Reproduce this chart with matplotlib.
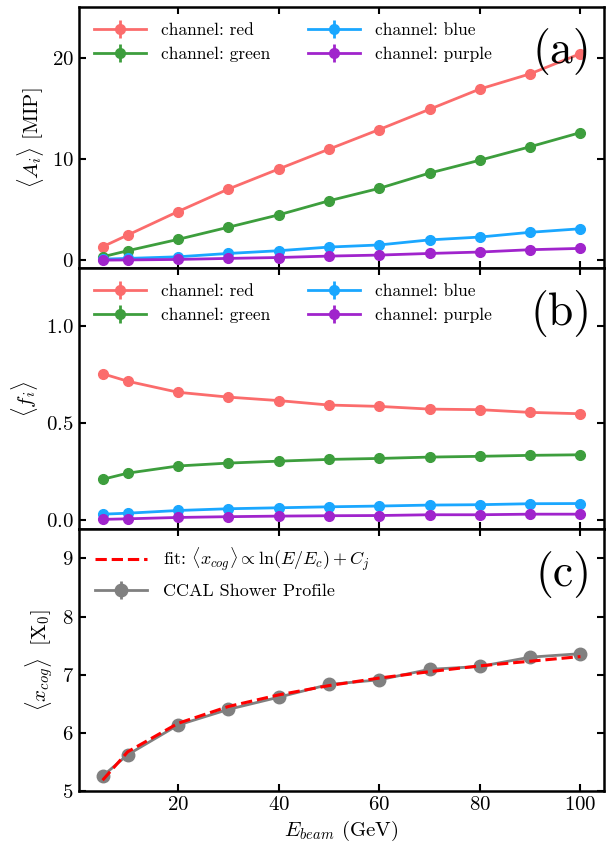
import numpy as np
import matplotlib
matplotlib.use("Agg")
import matplotlib.pyplot as plt

# 能量点 (GeV)
E_beam = [5, 10, 20, 30, 40, 50, 60, 70, 80, 90, 100]

## (a) 各通道平均幅度 [MIP]
A_red = [1.32, 2.48, 4.8, 7.02, 9.0, 10.96, 12.9, 14.9, 16.9, 18.4, 20.4]
A_green = [0.33, 0.93, 2.05, 3.25, 4.47, 5.86, 7.09, 8.6, 9.87, 11.2, 12.6]
A_blue = [0.1, 0.17, 0.33, 0.66, 0.93, 1.29, 1.5, 2.0, 2.28, 2.75, 3.1]
A_purple = [0.0, 0.02, 0.07, 0.17, 0.26, 0.4, 0.5, 0.66, 0.8, 1.03, 1.16]

## (b) 各通道能量份额
f_red = [0.755, 0.716, 0.659, 0.634, 0.616, 0.593, 0.586, 0.572, 0.569, 0.555, 0.548]
f_green = [0.209, 0.241, 0.278, 0.293, 0.303, 0.312, 0.317, 0.324, 0.328, 0.333, 0.336]
f_blue = [0.029, 0.034, 0.048, 0.057, 0.062, 0.067, 0.071, 0.076, 0.078, 0.083, 0.084]
f_purple = [0.002, 0.005, 0.012, 0.016, 0.019, 0.021, 0.022, 0.026, 0.026, 0.029, 0.029]

## (c) 簇射重心
x_cog = [5.25, 5.62, 6.13, 6.40, 6.61, 6.83, 6.91, 7.09, 7.14, 7.30, 7.36]
x_cog_fit = [5.18, 5.67, 6.16, 6.45, 6.65, 6.81, 6.94, 7.05, 7.15, 7.23, 7.31]

channels = ["red", "green", "blue", "purple"]
colors = ['#fb6c6c', '#3d9e3d', '#1aa7ff', '#a024cc']

plt.rcParams.update({
    'font.family': 'serif',
    'font.serif': ['cmr10', 'DejaVu Serif'],
    'mathtext.fontset': 'cm',
    'axes.formatter.use_mathtext': True,
    'font.size': 15,
    'axes.linewidth': 1.8,
})

fig, axes = plt.subplots(3, 1, figsize=(6.08, 8.46), dpi=100, sharex=True)
fig.subplots_adjust(left=0.1294, right=0.994, bottom=0.0654, top=0.9917, hspace=0)

def style_axis(ax):
    ax.tick_params(direction='in', which='both', top=True, right=True,
                   length=5, width=1.5, labelsize=15)

def channel_legend(ax):
    ax.legend(loc='upper left', ncol=2, frameon=False, fontsize=12.5,
              handlelength=3.0, handletextpad=0.85, columnspacing=2.15,
              borderaxespad=0.5, labelspacing=0.5)

def panel_tag(ax, tag):
    ax.text(0.975, 0.828, tag, transform=ax.transAxes, ha='right', va='center',
            fontsize=33)

# (a)
ax = axes[0]
for name, ys, c in zip(channels, [A_red, A_green, A_blue, A_purple], colors):
    ax.errorbar(E_beam, ys, yerr=[0.02] * len(ys), color=c, marker='o', ms=7,
                lw=2, label="channel: " + name)
ax.set_ylim(-0.8, 25)
ax.set_yticks([0, 10, 20])
ax.set_ylabel(r"$\langle A_i \rangle$ [MIP]")
channel_legend(ax)
panel_tag(ax, "(a)")
style_axis(ax)

# (b)
ax = axes[1]
for name, ys, c in zip(channels, [f_red, f_green, f_blue, f_purple], colors):
    ax.errorbar(E_beam, ys, yerr=[0.002] * len(ys), color=c, marker='o', ms=7,
                lw=2, label="channel: " + name)
ax.set_ylim(-0.05, 1.3)
ax.set_yticks([0.0, 0.5, 1.0])
ax.set_ylabel(r"$\langle f_i \rangle$")
channel_legend(ax)
panel_tag(ax, "(b)")
style_axis(ax)

# (c)
ax = axes[2]
ax.plot(E_beam, x_cog_fit, '--', color='red', lw=2.2, zorder=3,
        label=r"fit: $\langle x_{cog} \rangle \propto \ln(E/E_c) + C_j$")
ax.errorbar(E_beam, x_cog, yerr=[0.02] * len(x_cog), color='gray', marker='o',
            ms=9, lw=2, label="CCAL Shower Profile")
ax.set_ylim(5, 9.5)
ax.set_yticks([5, 6, 7, 8, 9])
ax.set_ylabel(r"$\langle x_{cog} \rangle\ \ [\mathrm{X}_0]$")
ax.set_xlabel(r"$E_{beam}$ (GeV)")
ax.legend(loc='upper left', frameon=False, fontsize=13, handlelength=2.9,
          handletextpad=0.85, borderaxespad=0.5, labelspacing=0.55)
panel_tag(ax, "(c)")
ax.set_xticks([20, 40, 60, 80, 100])
style_axis(ax)

plt.savefig("out.png", dpi=100)
